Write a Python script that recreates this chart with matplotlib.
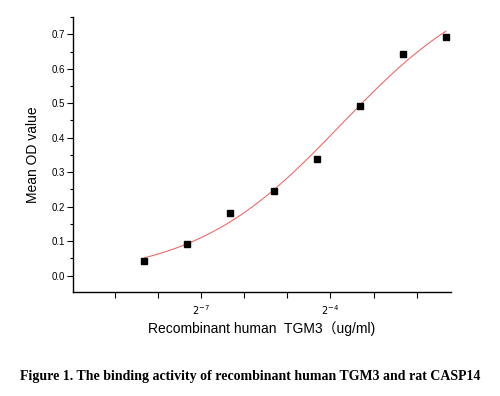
import numpy as np
import matplotlib
matplotlib.use("Agg")
import matplotlib.pyplot as plt
from matplotlib.ticker import MultipleLocator, FixedLocator

# concentrations (ug/ml) and mean OD readings
conc = [0.003125, 0.00625, 0.0125, 0.025, 0.05, 0.1, 0.2, 0.4]
od = [0.043, 0.091, 0.183, 0.247, 0.338, 0.491, 0.644, 0.693]
xtick_exps = [-9, -8, -7, -6, -5, -4, -3, -2]
xlabel_exps = [-7, -4]

plt.rcParams['font.family'] = ['Liberation Sans', 'Noto Sans CJK SC']

t = np.log2(conc)
y = np.array(od)

# 4-parameter logistic fit in log2 space (grid over centre/slope, linear solve for bottom/top)
best = None
for t0 in np.linspace(-7, 0, 141):
    for k in np.linspace(0.2, 2.0, 91):
        s = 1 / (1 + np.exp(-k * (t - t0)))
        M = np.column_stack([np.ones_like(s), s])
        coef, *_ = np.linalg.lstsq(M, y, rcond=None)
        r = np.sum((M @ coef - y) ** 2)
        if best is None or r < best[0]:
            best = (r, t0, k, coef)
_, t0, k, coef = best
tt = np.linspace(t.min(), t.max(), 200)
yy = coef[0] + coef[1] / (1 + np.exp(-k * (tt - t0)))

fig = plt.figure(figsize=(5, 3.96), dpi=100)
ax = fig.add_axes([0.146, 0.262, 0.756, 0.695])

ax.plot(tt, yy, color='#f06a6a', lw=0.8)
ax.plot(t, y, 's', color='black', ms=4.5)

ax.set_xlim(-9.98, -1.2)
ax.set_ylim(-0.048, 0.75)
ax.yaxis.set_minor_locator(MultipleLocator(0.05))
ax.xaxis.set_major_locator(FixedLocator(xtick_exps))
ax.set_xticklabels([f'$2^{{{e}}}$' if e in xlabel_exps else '' for e in xtick_exps])
ax.set_yticks([i / 10 for i in range(8)])
ax.set_yticklabels([f'{i / 10:.1f}' for i in range(8)])

for side in ['top', 'right']:
    ax.spines[side].set_visible(False)
ax.spines['left'].set_linewidth(1.0)
ax.spines['bottom'].set_linewidth(1.0)
ax.tick_params(axis='both', which='major', length=4, width=0.8, labelsize=7, pad=2)
ax.tick_params(axis='x', which='major', pad=4)
ax.tick_params(axis='y', which='minor', length=2.5, width=0.8)

ax.set_ylabel('Mean OD value', fontsize=10, labelpad=8)
ax.set_xlabel('Recombinant human  TGM3（ug/ml)', fontsize=10, labelpad=3)

fig.text(0.5, 0.05, 'Figure 1. The binding activity of recombinant human TGM3 and rat CASP14',
         ha='center', va='center', family='Liberation Serif', fontweight='bold', fontsize=10)

fig.savefig('out.png', dpi=100)
